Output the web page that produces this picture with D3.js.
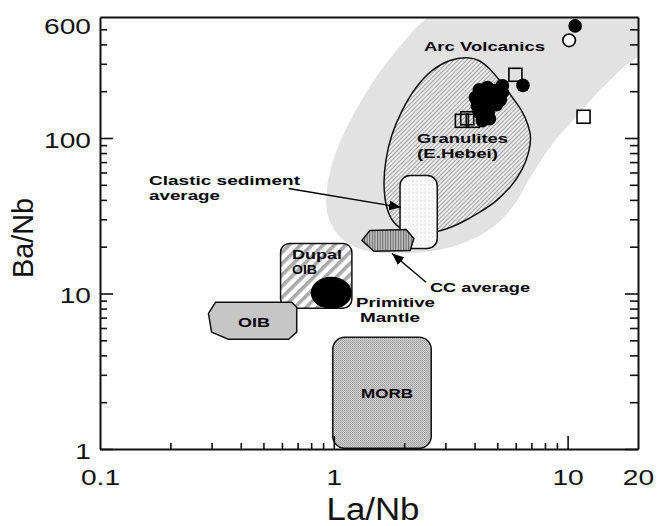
<!DOCTYPE html>
<html>
<head>
<meta charset="utf-8">
<script src="https://cdn.jsdelivr.net/npm/d3@7"></script>
<style>
  html, body { margin: 0; padding: 0; background: #fff; }
  svg { display: block; }
  text { font-family: "Liberation Sans", Arial, Helvetica, sans-serif; }
</style>
</head>
<body>
<svg id="chart" width="658" height="526"></svg>
<script>
// ---- Axis ticks (La/Nb horizontal, Ba/Nb vertical, both logarithmic) ----
const xTickLabels = [0.1, 1, 10, 20];
const xMajorTicks = [1, 10];
const xMinorTicks = [0.2, 0.3, 0.4, 0.5, 0.6, 0.7, 0.8, 0.9, 2, 3, 4, 5, 6, 7, 8, 9];
const yTickLabels = [1, 10, 100, 600];
const yMajorTicks = [1, 10, 100];
const yMinorTicks = [2, 3, 4, 5, 6, 7, 8, 9, 20, 30, 40, 50, 60, 70, 80, 90, 200, 300, 400, 500];

// ---- Reference fields, outlines as [La/Nb, Ba/Nb] ----
const arcVolcanicsField = [
  [3.12, 707], [22.5, 707], [22.5, 410], [16.7, 271], [13.3, 193], [10.5, 129],
  [8.62, 92], [7.07, 59], [5.81, 36], [4.77, 26.6], [3.54, 21.0], [2.56, 18.7],
  [1.81, 18.1], [1.28, 19.5], [1.05, 23.6], [0.943, 31.8], [0.933, 46],
  [0.98, 66.5], [1.07, 96], [1.24, 150], [1.51, 244], [1.96, 404], [2.43, 567]
];
const granulitesField = [
  [3.72, 328], [4.19, 314], [4.63, 279], [5.21, 227], [5.81, 182], [6.35, 150],
  [6.73, 124], [6.94, 101], [6.80, 80.6], [6.41, 63.6], [5.75, 49.5], [4.96, 39.6],
  [4.19, 33.2], [3.51, 28.6], [2.97, 25.8], [2.43, 24.3], [2.06, 25.1], [1.81, 28.6],
  [1.69, 35.2], [1.64, 49.5], [1.67, 71.6], [1.77, 104], [1.96, 150], [2.25, 211],
  [2.63, 271], [3.12, 314]
];
const clasticLaNb = [1.92, 2.77];
const clasticBaNb = [19.5, 57.4];
const ccAverageField = [
  [1.319, 21.96], [1.427, 25.4], [2.04, 25.8], [2.20, 22.6], [2.12, 18.9], [1.485, 18.7]
];
const dupalLaNb = [0.592, 1.195];
const dupalBaNb = [8.04, 21.0];
const primitiveMantle = [0.975, 10.1];
const oibField = [
  [0.312, 8.78], [0.66, 8.78], [0.694, 8.15], [0.694, 5.64], [0.641, 5.08],
  [0.354, 5.08], [0.300, 5.64], [0.291, 7.46]
];
const morbLaNb = [0.99, 2.61];
const morbBaNb = [1.01, 5.23];

// ---- Samples [La/Nb, Ba/Nb] ----
const filledCircleSamples = [
  [10.77, 526], [6.44, 218],
  [4.19, 204], [4.54, 211], [4.91, 202], [5.26, 217], [5.26, 196],
  [4.03, 182], [4.40, 184], [4.81, 182], [5.16, 176],
  [4.11, 161], [4.49, 161], [4.96, 164],
  [4.19, 146], [4.58, 146], [4.32, 129], [4.63, 133]
];
const openCircleSamples = [[10.15, 425]];
const openSquareSamples = [[5.98, 255], [11.7, 137], [3.53, 129], [3.72, 134], [3.93, 129]];

// ---- Arrows [from, to] ----
const clasticArrow = [[0.641, 47.3], [1.939, 35.8]];
const ccArrow = [[2.48, 11.8], [1.774, 18.1]];

// ---- Layout ----
const svg = d3.select("#chart");
const plot = { left: 100, right: 638, top: 17, bottom: 449 };

const x = d3.scaleLog().domain([0.1, 20]).range([plot.left, plot.right]);
const y = d3.scaleLog().domain([1, 600]).range([plot.bottom, plot.top]);

const defs = svg.append("defs");
defs.append("clipPath").attr("id", "plotClip")
  .append("rect")
  .attr("x", plot.left).attr("y", plot.top)
  .attr("width", plot.right - plot.left).attr("height", plot.bottom - plot.top);

// granulites: fine diagonal hatch
const pGran = defs.append("pattern").attr("id", "granHatch")
  .attr("patternUnits", "userSpaceOnUse").attr("width", 3).attr("height", 3)
  .attr("patternTransform", "rotate(45)");
pGran.append("rect").attr("width", 3).attr("height", 3).attr("fill", "#ededed");
pGran.append("line").attr("x1", 0.5).attr("y1", 0).attr("x2", 0.5).attr("y2", 3)
  .attr("stroke", "#959595").attr("stroke-width", 0.85);

// Dupal OIB: wide stripes
const pDupal = defs.append("pattern").attr("id", "dupalStripes")
  .attr("patternUnits", "userSpaceOnUse").attr("width", 8).attr("height", 8)
  .attr("patternTransform", "rotate(45)");
pDupal.append("rect").attr("width", 8).attr("height", 8).attr("fill", "#ffffff");
pDupal.append("rect").attr("x", 0).attr("width", 3.6).attr("height", 8).attr("fill", "#a9a9a9");

// CC average: vertical lines
const pCC = defs.append("pattern").attr("id", "ccLines")
  .attr("patternUnits", "userSpaceOnUse").attr("width", 2.6).attr("height", 4);
pCC.append("rect").attr("width", 2.6).attr("height", 4).attr("fill", "#c4c4c4");
pCC.append("rect").attr("x", 0).attr("width", 1.1).attr("height", 4).attr("fill", "#6a6a6a");

// clastic sediment: faint dots
const pClastic = defs.append("pattern").attr("id", "clasticDots")
  .attr("patternUnits", "userSpaceOnUse").attr("width", 4).attr("height", 4);
pClastic.append("rect").attr("width", 4).attr("height", 4).attr("fill", "#ffffff");
pClastic.append("circle").attr("cx", 1).attr("cy", 1).attr("r", 0.7).attr("fill", "#cfcfcf");
pClastic.append("circle").attr("cx", 3).attr("cy", 3).attr("r", 0.6).attr("fill", "#e0e0e0");

// MORB: fine stipple
const pMorb = defs.append("pattern").attr("id", "morbDots")
  .attr("patternUnits", "userSpaceOnUse").attr("width", 2).attr("height", 2);
pMorb.append("rect").attr("width", 2).attr("height", 2).attr("fill", "#d2d2d2");
pMorb.append("rect").attr("x", 0).attr("y", 0).attr("width", 1).attr("height", 1).attr("fill", "#9c9c9c");
pMorb.append("rect").attr("x", 1).attr("y", 1).attr("width", 1).attr("height", 1).attr("fill", "#a8a8a8");

// arrowhead
defs.append("marker").attr("id", "arrowHead")
  .attr("viewBox", "0 0 12 10").attr("refX", 12).attr("refY", 5)
  .attr("markerWidth", 12).attr("markerHeight", 10)
  .attr("markerUnits", "userSpaceOnUse").attr("orient", "auto")
  .append("path").attr("d", "M0,0 L12,5 L0,10 Z").attr("fill", "#000");

const smooth = d3.line().x(d => x(d[0])).y(d => y(d[1])).curve(d3.curveCatmullRomClosed.alpha(0.5));
const straight = d3.line().x(d => x(d[0])).y(d => y(d[1])).curve(d3.curveLinearClosed);

const fields = svg.append("g").attr("clip-path", "url(#plotClip)");

// Arc volcanics envelope
fields.append("path").attr("d", smooth(arcVolcanicsField)).attr("fill", "#e2e2e2");

// Granulites (E. Hebei)
fields.append("path").attr("d", smooth(granulitesField))
  .attr("fill", "url(#granHatch)").attr("stroke", "#111").attr("stroke-width", 1.5);

// Clastic sediment average
fields.append("rect")
  .attr("x", x(clasticLaNb[0])).attr("y", y(clasticBaNb[1]))
  .attr("width", x(clasticLaNb[1]) - x(clasticLaNb[0]))
  .attr("height", y(clasticBaNb[0]) - y(clasticBaNb[1]))
  .attr("rx", 10).attr("ry", 10)
  .attr("fill", "url(#clasticDots)").attr("stroke", "#111").attr("stroke-width", 1.5);

// CC average
fields.append("path").attr("d", straight(ccAverageField))
  .attr("fill", "url(#ccLines)").attr("stroke", "#111").attr("stroke-width", 1.5)
  .attr("stroke-linejoin", "round");

// Dupal OIB
fields.append("rect")
  .attr("x", x(dupalLaNb[0])).attr("y", y(dupalBaNb[1]))
  .attr("width", x(dupalLaNb[1]) - x(dupalLaNb[0]))
  .attr("height", y(dupalBaNb[0]) - y(dupalBaNb[1]))
  .attr("rx", 9).attr("ry", 9)
  .attr("fill", "url(#dupalStripes)").attr("stroke", "#111").attr("stroke-width", 1.5);

// OIB
fields.append("path").attr("d", straight(oibField))
  .attr("fill", "#c6c6c6").attr("stroke", "#111").attr("stroke-width", 1.5)
  .attr("stroke-linejoin", "round");

// Primitive mantle
fields.append("ellipse")
  .attr("cx", x(primitiveMantle[0])).attr("cy", y(primitiveMantle[1]))
  .attr("rx", 20.5).attr("ry", 16).attr("fill", "#000");

// MORB
fields.append("rect")
  .attr("x", x(morbLaNb[0])).attr("y", y(morbBaNb[1]))
  .attr("width", x(morbLaNb[1]) - x(morbLaNb[0]))
  .attr("height", y(morbBaNb[0]) - y(morbBaNb[1]))
  .attr("rx", 12).attr("ry", 12)
  .attr("fill", "url(#morbDots)").attr("stroke", "#111").attr("stroke-width", 1.5);

// ---- Samples ----
const marks = svg.append("g").attr("clip-path", "url(#plotClip)");
const sq = 13;
marks.selectAll("rect.sq").data(openSquareSamples).join("rect").attr("class", "sq")
  .attr("x", d => x(d[0]) - sq / 2).attr("y", d => y(d[1]) - sq / 2)
  .attr("width", sq).attr("height", sq)
  .attr("fill", "none").attr("stroke", "#000").attr("stroke-width", 1.6);
marks.selectAll("circle.open").data(openCircleSamples).join("circle").attr("class", "open")
  .attr("cx", d => x(d[0])).attr("cy", d => y(d[1])).attr("r", 6.3)
  .attr("fill", "#fff").attr("stroke", "#000").attr("stroke-width", 1.6);
marks.selectAll("circle.filled").data(filledCircleSamples).join("circle").attr("class", "filled")
  .attr("cx", d => x(d[0])).attr("cy", d => y(d[1])).attr("r", 6.8)
  .attr("fill", "#000");

// ---- Arrows ----
const arrows = svg.append("g");
[clasticArrow, ccArrow].forEach(a => {
  arrows.append("line")
    .attr("x1", x(a[0][0])).attr("y1", y(a[0][1]))
    .attr("x2", x(a[1][0])).attr("y2", y(a[1][1]))
    .attr("stroke", "#000").attr("stroke-width", 1.4)
    .attr("marker-end", "url(#arrowHead)");
});

// ---- Annotations (each line: text, left x, baseline y, width) ----
const notes = [
  [["Arc Volcanics", 424, 51, 121]],
  [["Granulites", 417, 143, 91], ["(E.Hebei)", 417, 158, 81]],
  [["Clastic sediment", 149, 185, 151], ["average", 149, 200, 71]],
  [["CC average", 430, 292, 100]],
  [["Primitive", 356, 307, 79], ["Mantle", 360, 322, 60]],
  [["Dupal", 292, 259, 50], ["OIB", 292, 274, 25]],
  [["OIB", 238, 327, 32]],
  [["MORB", 361, 398, 52]]
];
svg.append("g").selectAll("text").data(notes).join("text")
  .attr("font-size", 13.5).attr("font-weight", "bold").attr("fill", "#000")
  .attr("font-family", "'DejaVu Sans', 'Liberation Sans', Arial, sans-serif")
  .each(function (lines) {
    d3.select(this).selectAll("tspan").data(lines).join("tspan")
      .attr("x", d => d[1]).attr("y", d => d[2])
      .attr("textLength", d => d[3]).attr("lengthAdjust", "spacingAndGlyphs")
      .text(d => d[0]);
  });

// ---- Axes ----
const axes = svg.append("g").attr("fill", "none");
const stroke = "#111";
function styleAxis(g, keepDomain) {
  if (!keepDomain) g.select(".domain").remove();
  g.selectAll(".domain").attr("stroke", stroke).attr("stroke-width", 2);
  g.selectAll(".tick line").attr("stroke", stroke).attr("stroke-width", 1.6);
}
const fmt = d => String(d);
const xStretch = 1.28;

// left
axes.append("g").attr("transform", `translate(${plot.left},0)`)
  .call(d3.axisLeft(y).tickValues(yMinorTicks).tickSize(-7).tickFormat(""))
  .call(g => styleAxis(g, false));
axes.append("g").attr("transform", `translate(${plot.left},0)`)
  .call(d3.axisLeft(y).tickValues(yMajorTicks).tickSize(-13).tickSizeOuter(0).tickFormat(""))
  .call(g => styleAxis(g, true));
axes.append("g").attr("transform", `translate(${plot.left},0)`)
  .call(d3.axisLeft(y).tickValues(yTickLabels).tickSize(0).tickPadding(9).tickFormat(fmt))
  .call(g => {
    g.select(".domain").remove();
    g.selectAll(".tick line").remove();
    g.selectAll("text")
      .attr("x", -9 / xStretch)
      .attr("dy", d => (d === 600 ? "0.73em" : "0.43em"))
      .attr("transform", `scale(${xStretch},1)`)
      .attr("font-size", 22).attr("fill", "#111")
      .attr("font-family", "'Liberation Sans', Arial, sans-serif");
  });

// right
axes.append("g").attr("transform", `translate(${plot.right},0)`)
  .call(d3.axisRight(y).tickValues(yMinorTicks).tickSize(-8).tickFormat(""))
  .call(g => styleAxis(g, false));
axes.append("g").attr("transform", `translate(${plot.right},0)`)
  .call(d3.axisRight(y).tickValues(yMajorTicks).tickSize(-13).tickSizeOuter(0).tickFormat(""))
  .call(g => styleAxis(g, true));

// bottom
axes.append("g").attr("transform", `translate(0,${plot.bottom})`)
  .call(d3.axisBottom(x).tickValues(xMinorTicks).tickSize(-6).tickFormat(""))
  .call(g => styleAxis(g, false));
axes.append("g").attr("transform", `translate(0,${plot.bottom})`)
  .call(d3.axisBottom(x).tickValues(xMajorTicks).tickSize(-13).tickSizeOuter(0).tickFormat(""))
  .call(g => styleAxis(g, true));
axes.append("g").attr("transform", `translate(0,${plot.bottom})`)
  .call(d3.axisBottom(x).tickValues(xTickLabels).tickSize(0).tickPadding(20).tickFormat(fmt))
  .call(g => {
    g.select(".domain").remove();
    g.selectAll(".tick line").remove();
    g.selectAll("text")
      .attr("transform", `scale(${xStretch},1)`)
      .attr("font-size", 22).attr("fill", "#111")
      .attr("font-family", "'Liberation Sans', Arial, sans-serif");
  });

// top
axes.append("g").attr("transform", `translate(0,${plot.top})`)
  .call(d3.axisTop(x).tickValues([]).tickSizeOuter(0))
  .call(g => styleAxis(g, true));

// ---- Axis titles ----
svg.append("text")
  .attr("x", 373).attr("y", 520)
  .attr("text-anchor", "middle")
  .attr("font-size", 31).attr("fill", "#111")
  .attr("textLength", 93).attr("lengthAdjust", "spacingAndGlyphs")
  .text("La/Nb");
svg.append("text")
  .attr("transform", "translate(33,238) rotate(-90)")
  .attr("text-anchor", "middle")
  .attr("font-size", 30).attr("fill", "#111")
  .attr("textLength", 80).attr("lengthAdjust", "spacingAndGlyphs")
  .text("Ba/Nb");
</script>
</body>
</html>
